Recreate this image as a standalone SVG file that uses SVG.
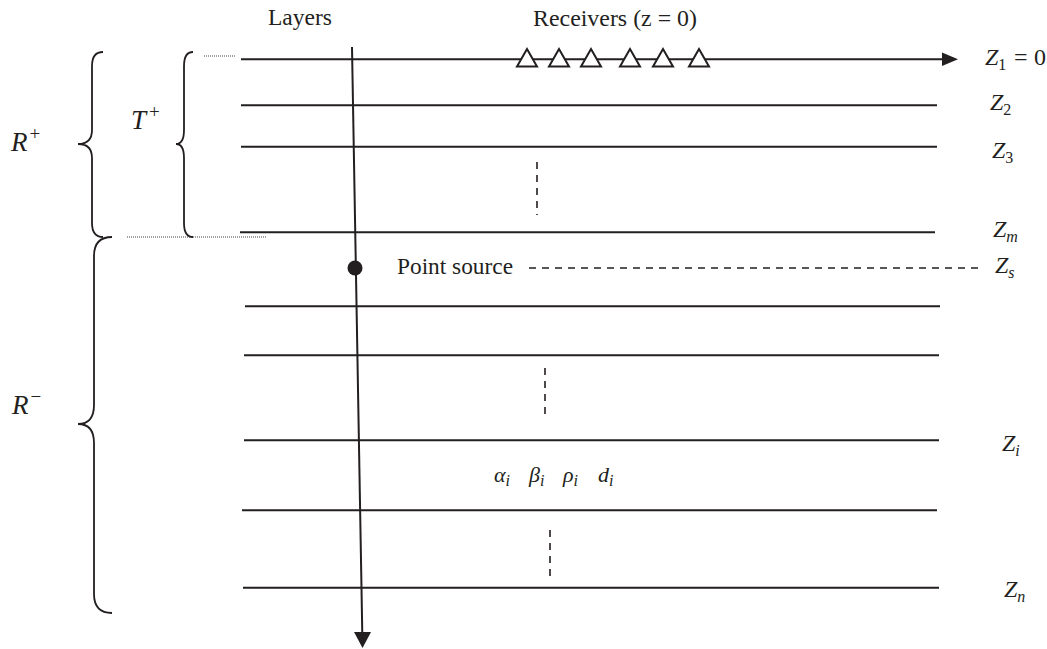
<svg xmlns="http://www.w3.org/2000/svg" width="1047" height="649" viewBox="0 0 1047 649">
<style>
.t{font-family:"Liberation Serif","DejaVu Serif","Times New Roman",serif;font-size:23px;fill:#231f20}
.m{font-family:"Liberation Serif","DejaVu Serif","Times New Roman",serif;font-style:italic;font-size:24px;fill:#231f20}
.big{font-size:27px}
.gr{font-size:22px}
.sup{font-style:normal;font-size:19px}
.mn{font-style:normal}
.sub{font-size:16px}
.ln{stroke:#231f20;stroke-width:2;fill:none}
.br{stroke:#231f20;stroke-width:1.8;fill:none}
.dot{stroke:#444;stroke-width:1.2;stroke-dasharray:1 1;fill:none}
.dsh{stroke:#231f20;stroke-width:1.6;stroke-dasharray:7 6;fill:none}
.rx{fill:#fff;stroke:#231f20;stroke-width:2}
</style>
<rect width="1047" height="649" fill="#fff"/>
<g id="layers">
<line class="ln" x1="241" y1="105.3" x2="937" y2="105.3"/>
<line class="ln" x1="241" y1="146.7" x2="937" y2="146.7"/>
<line class="ln" x1="240" y1="232.3" x2="935" y2="232.3"/>
<line class="ln" x1="245" y1="306.3" x2="940" y2="306.3"/>
<line class="ln" x1="244" y1="355.3" x2="939" y2="355.3"/>
<line class="ln" x1="244" y1="440.3" x2="939" y2="440.3"/>
<line class="ln" x1="242" y1="510.3" x2="937" y2="510.3"/>
<line class="ln" x1="243" y1="587.7" x2="939" y2="587.7"/>
</g>
<g id="dashes">
<line class="dsh" x1="537" y1="162" x2="537" y2="215"/>
<line class="dsh" x1="545" y1="368" x2="545" y2="418"/>
<line class="dsh" x1="550" y1="530" x2="550" y2="580"/>
<line class="dsh" x1="529" y1="268" x2="980" y2="268"/>
<line class="dot" x1="204" y1="56" x2="235" y2="56"/>
<line class="dot" x1="127" y1="237" x2="267" y2="237"/>
</g>
<g id="connectors">
<line class="ln" x1="241" y1="59.3" x2="944" y2="59.3" stroke-width="2.5"/>
<polygon points="942,52.5 958,59.3 942,66" fill="#231f20"/>
<line class="ln" x1="352" y1="47" x2="362.3" y2="634"/>
<polygon points="354,632 371,632 362.5,648" fill="#231f20"/>
</g>
<g id="receivers">
<polygon class="rx" points="527,49 517,66.5 537,66.5"/>
<polygon class="rx" points="559,49 549,66.5 569,66.5"/>
<polygon class="rx" points="591,49 581,66.5 601,66.5"/>
<polygon class="rx" points="630,49 620,66.5 640,66.5"/>
<polygon class="rx" points="663,49 653,66.5 673,66.5"/>
<polygon class="rx" points="699,49 689,66.5 709,66.5"/>
</g>
<g id="source">
<circle cx="355" cy="268" r="7.5" fill="#231f20"/>
<text class="t" x="397" y="274" textLength="116" lengthAdjust="spacingAndGlyphs">Point source</text>
</g>
<g id="braces">
<path class="br" d="M103,52 Q92,52 92,66 L92,130 Q92,144 78,144 Q92,144 92,158 L92,223 Q92,237 103,237"/>
<path class="br" d="M193,52 Q184,52 184,66 L184,130 Q184,144 176,144 Q184,144 184,158 L184,223 Q184,237 193,237"/>
<path class="br" d="M112,237 Q94,237 94,256 L94,405 Q94,424 78,424 Q94,424 94,443 L94,594 Q94,613 112,613"/>
</g>
<g id="labels">
<text class="t" x="268" y="25" textLength="64" lengthAdjust="spacingAndGlyphs">Layers</text>
<text class="t" x="533" y="26" textLength="164" lengthAdjust="spacingAndGlyphs">Receivers (z = 0)</text>
<text class="m big" x="11" y="151">R<tspan class="sup" dx="2" dy="-11">+</tspan></text>
<text class="m big" x="131" y="129">T<tspan class="sup" dx="3" dy="-11">+</tspan></text>
<text class="m big" x="12" y="414">R<tspan class="sup" dx="2" dy="-11">−</tspan></text>
<text class="m" x="985" y="65">Z<tspan class="mn sub" dy="5">1</tspan><tspan class="mn" dy="-5" x="1014">=</tspan><tspan class="mn" x="1034">0</tspan></text>
<text class="m" x="990" y="110">Z<tspan class="mn sub" dy="5">2</tspan></text>
<text class="m" x="992" y="158">Z<tspan class="mn sub" dy="5">3</tspan></text>
<text class="m" x="993" y="237">Z<tspan class="sub" dy="5">m</tspan></text>
<text class="m" x="995" y="273">Z<tspan class="sub" dy="5">s</tspan></text>
<text class="m" x="1002" y="451">Z<tspan class="sub" dy="5">i</tspan></text>
<text class="m" x="1004" y="597">Z<tspan class="sub" dy="5">n</tspan></text>
<text class="m gr" x="494" y="482">α<tspan class="sub" dy="4">i</tspan></text>
<text class="m gr" x="529" y="482">β<tspan class="sub" dy="4">i</tspan></text>
<text class="m gr" x="563" y="482">ρ<tspan class="sub" dy="4">i</tspan></text>
<text class="m gr" x="598" y="482">d<tspan class="sub" dy="4">i</tspan></text>
</g>
</svg>
